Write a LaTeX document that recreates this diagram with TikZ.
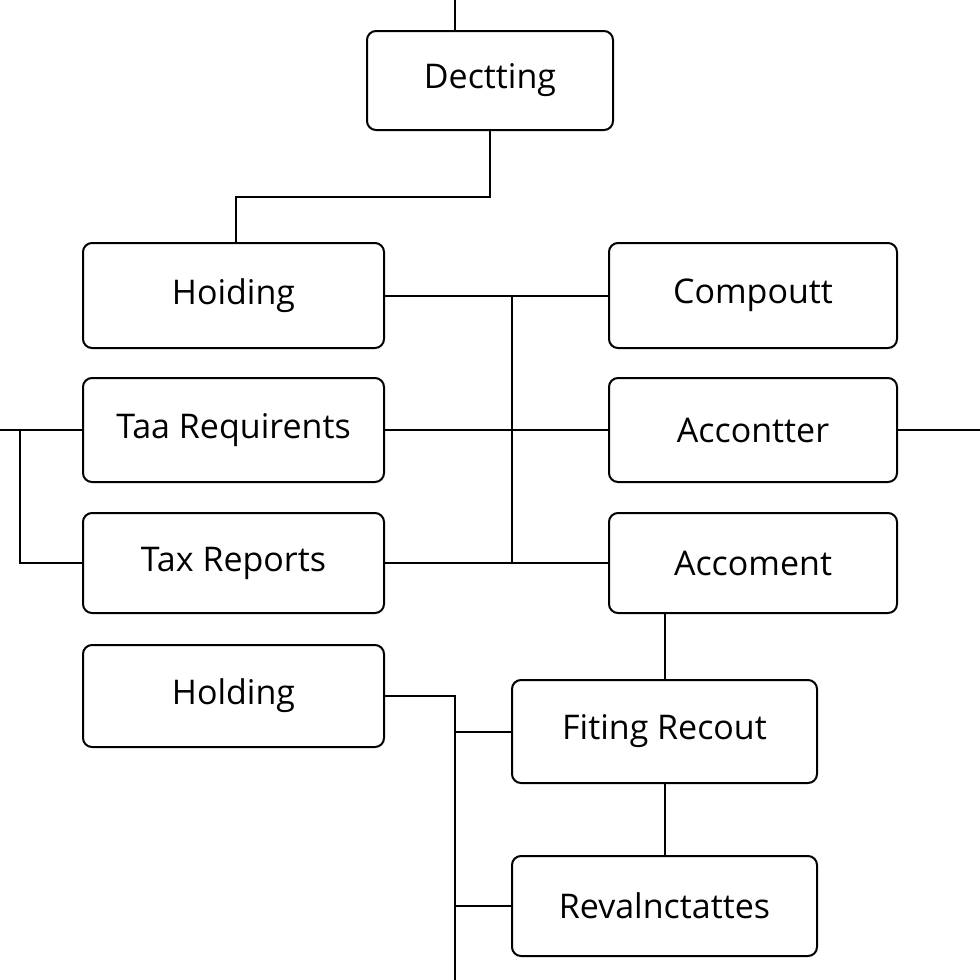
\documentclass[tikz,border=0pt]{standalone}
\usepackage{fontspec}
\setmainfont{Open Sans}
\begin{document}
\begin{tikzpicture}[x=0.5pt,y=-0.5pt,
  box/.style={draw=black, line width=1pt, rounded corners=4.5pt, inner sep=0pt, outer sep=0pt,
    font=\fontsize{17}{20}\selectfont, text=black},
  link/.style={draw=black, line width=1pt}]
\useasboundingbox[fill=white] (0,0) rectangle (980,980);
% nodes
\node[box, minimum width=123pt, minimum height=49.5pt] (dect) at (490,80.5) {Dectting};
\node[box, minimum width=150.5pt, minimum height=52.5pt] (hoid) at (233.5,295.5) {Hoiding};
\node[box, minimum width=150.5pt, minimum height=52pt] (taa) at (233.5,430) {Taa Requirents};
\node[box, minimum width=150.5pt, minimum height=50pt] (tax) at (233.5,563) {Tax Reports};
\node[box, minimum width=150.5pt, minimum height=51pt] (hold) at (233.5,696) {Holding};
\node[box, minimum width=144pt, minimum height=52.5pt] (comp) at (753,295.5) {Compoutt};
\node[box, minimum width=144pt, minimum height=52pt] (acct) at (753,430) {Accontter};
\node[box, minimum width=144pt, minimum height=50pt] (accm) at (753,563) {Accoment};
\node[box, minimum width=152.5pt, minimum height=51.5pt] (fit) at (664.5,731.5) {Fiting Recout};
\node[box, minimum width=152.5pt, minimum height=50pt] (rev) at (664.5,906) {Revalnctattes};
% coordinates
\coordinate (top) at (455,0);
\coordinate (m1) at (236,197);
\coordinate (jx) at (512,0);
\coordinate (lft) at (0,430);
\coordinate (lx) at (20,0);
\coordinate (rgt) at (980,430);
\coordinate (hx) at (455,980);
% connectors
\draw[link] (top) -- (top |- dect.north);
\draw[link] (dect.south) |- (m1) -- (m1 |- hoid.north);
\draw[link] (hoid.east) -- (comp.west);
\draw[link] (taa.east) -- (acct.west);
\draw[link] (tax.east) -- (accm.west);
\draw[link] (jx |- hoid.east) -- (jx |- tax.east);
\draw[link] (lft) -- (taa.west);
\draw[link] (lx |- taa.west) |- (tax.west);
\draw[link] (acct.east) -- (rgt);
\draw[link] (fit.north |- accm.south) -- (fit.north);
\draw[link] (fit.south) -- (rev.north);
\draw[link] (hold.east) -| (hx);
\draw[link] (hx |- fit.west) -- (fit.west);
\draw[link] (hx |- rev.west) -- (rev.west);
\end{tikzpicture}
\end{document}
